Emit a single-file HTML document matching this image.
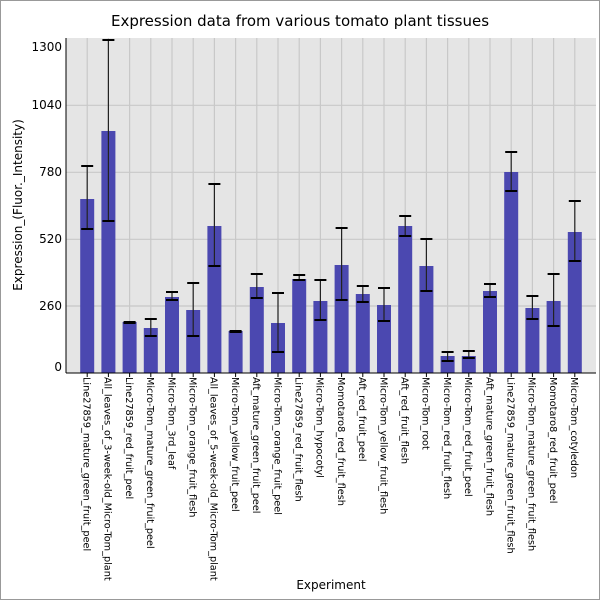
<!DOCTYPE html>
<html><head><meta charset="utf-8"><style>
html,body{margin:0;padding:0;background:#fff}
svg{display:block;font-family:"DejaVu Sans","Liberation Sans",sans-serif}
</style></head><body>
<svg width="600" height="600" viewBox="0 0 600 600" xmlns="http://www.w3.org/2000/svg">
<rect x="0.5" y="0.5" width="599" height="599" fill="#fff" stroke="#999"/>
<text x="300" y="26" font-size="15" text-anchor="middle" fill="#000">Expression data from various tomato plant tissues</text>
<rect x="66" y="38" width="530" height="335" fill="#e5e5e5"/>
<g stroke="#c8c8c8" stroke-width="1.2" id="grid"></g>
<g id="bars"></g>
<line x1="66" y1="38" x2="66" y2="373" stroke="#000"/>
<line x1="66" y1="373" x2="596" y2="373" stroke="#000"/>
<g font-size="12" text-anchor="end" fill="#000">
<text x="62" y="51">1300</text>
<text x="62" y="109">1040</text>
<text x="62" y="176">780</text>
<text x="62" y="243">520</text>
<text x="62" y="310">260</text>
<text x="62" y="371">0</text>
</g>
<text transform="translate(22,205) rotate(-90)" font-size="12" text-anchor="middle">Expression_(Fluor._Intensity)</text>
<text x="331" y="589" font-size="12" text-anchor="middle">Experiment</text>
<g id="labels" font-size="9.7" fill="#000"></g>
<script>
var names=["Line27859_mature_green_fruit_peel","All_leaves_of_3-week-old_Micro-Tom_plant","Line27859_red_fruit_peel","Micro-Tom_mature_green_fruit_peel","Micro-Tom_3rd_leaf","Micro-Tom_orange_fruit_flesh","All_leaves_of_5-week-old_Micro-Tom_plant","Micro-Tom_yellow_fruit_peel","Aft_mature_green_fruit_peel","Micro-Tom_orange_fruit_peel","Line27859_red_fruit_flesh","Micro-Tom_hypocotyl","Momotaro8_red_fruit_flesh","Aft_red_fruit_peel","Micro-Tom_yellow_fruit_flesh","Aft_red_fruit_flesh","Micro-Tom_root","Micro-Tom_red_fruit_flesh","Micro-Tom_red_fruit_peel","Aft_mature_green_fruit_flesh","Line27859_mature_green_fruit_flesh","Micro-Tom_mature_green_fruit_flesh","Momotaro8_red_fruit_peel","Micro-Tom_cotyledon"];
var d=[[199,166,229],[131,40,221],[322,322,323],[328,319,336],[297,292,300],[310,283,336],[226,184,266],[331,331,332],[287,274,298],[323,293,352],[279,275,280],[301,280,320],[265,228,300],[294,286,302],[305,288,321],[226,216,236],[266,239,291],[356,352,361],[356,351,358],[291,284,297],[172,152,191],[308,296,319],[301,274,326],[232,201,261]];
var ns="http://www.w3.org/2000/svg";
function el(p,t,a,txt){var e=document.createElementNS(ns,t);for(var k in a)e.setAttribute(k,a[k]);if(txt)e.textContent=txt;p.appendChild(e);return e;}
var g=document.getElementById("grid"),b=document.getElementById("bars"),l=document.getElementById("labels");
[105.3,172.3,239.3,306].forEach(function(y){el(g,"line",{x1:66,x2:596,y1:y,y2:y});});
for(var i=0;i<24;i++){var cx=66+21.2*(i+1);el(g,"line",{x1:cx,x2:cx,y1:38,y2:373});}
for(var i=0;i<24;i++){var cx=66+21.2*(i+1),r=d[i];
el(b,"rect",{x:cx-7,y:r[0],width:14,height:373-r[0],fill:"#4b48b0"});
el(b,"line",{x1:cx,x2:cx,y1:r[1],y2:r[2],stroke:"#222","stroke-width":1.2});
el(b,"line",{x1:cx-6,x2:cx+6,y1:r[1],y2:r[1],stroke:"#000","stroke-width":2});
el(b,"line",{x1:cx-6,x2:cx+6,y1:r[2],y2:r[2],stroke:"#000","stroke-width":2});
el(b,"line",{x1:cx,x2:cx,y1:373,y2:377,stroke:"#000"});
el(l,"text",{transform:"translate("+(cx-3.7)+",377) rotate(90)"},names[i]);}
</script>
</svg>
</body></html>
